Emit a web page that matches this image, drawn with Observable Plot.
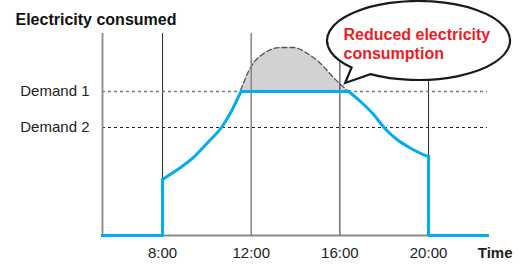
<!DOCTYPE html>
<html>
<head>
<meta charset="utf-8">
<script src="https://cdn.jsdelivr.net/npm/d3@7"></script>
<script src="https://cdn.jsdelivr.net/npm/@observablehq/plot@0.6"></script>
<style>
  html, body { margin: 0; padding: 0; background: #fff; }
  svg { display: block; }
</style>
</head>
<body>
<div id="chart"></div>
<script>
// ---- data (hours of day, relative consumption) ----
const timeRange = [5.29, 22.66];
const tickHours = [8, 12, 16, 20];
const demandLabels = ["Demand 1", "Demand 2"];
const demandValues = [144, 108];
const yMax = 202;

// blue (actual consumption) pieces
const offHoursA = [5.29, 8, 8];
const offValuesA = [0, 0, 56];
const riseHours = [8, 8.66, 9.41, 10.01, 10.69, 11.14, 11.39, 11.55];
const riseValues = [56, 65.7, 78.3, 92.3, 109, 125.7, 137.3, 144];
const capHours = [11.55, 16.4];
const capValues = [144, 144];
const fallHours = [16.4, 16.93, 17.53, 17.98, 18.59, 19.19, 19.79, 20];
const fallValues = [144, 134, 120.7, 108.3, 95.7, 87.3, 80.7, 79];
const offHoursB = [20, 20, 22.66];
const offValuesB = [79, 0, 0];

// dashed (unreduced peak) curve
const peakHours = [11.52, 11.97, 12.56, 13.32, 13.91, 14.54, 15.13, 15.71, 16.34];
const peakValues = [145, 168, 182, 188, 188, 182, 172, 158, 145];

const titleText = "Electricity consumed";
const xLabel = "Time";
const bubbleText = "Reduced electricity\nconsumption";

// ---- build tables ----
const zip = (xs, ys, seg) => xs.map((x, i) => ({x, y: ys[i], seg}));
const straight = [...zip(offHoursA, offValuesA, "a"), ...zip(capHours, capValues, "c"), ...zip(offHoursB, offValuesB, "e")];
const curved = [...zip(riseHours, riseValues, "b"), ...zip(fallHours, fallValues, "d")];
const peak = zip(peakHours, peakValues, "p");

const blue = "#00aeef";

const plot = Plot.plot({
  width: 522,
  height: 264,
  marginLeft: 102,
  marginRight: 35,
  marginTop: 33,
  marginBottom: 29,
  style: {fontFamily: "'Liberation Sans', Arial, sans-serif", background: "#fff", color: "#222"},
  x: {domain: timeRange},
  y: {domain: [0, yMax]},
  marks: [
    Plot.areaY(peak, {x: "x", y1: demandValues[0], y2: "y", fill: "#d1d2d4", curve: "monotone-x"}),
    Plot.line(peak, {x: "x", y: "y", stroke: "#555", strokeWidth: 1.3, strokeDasharray: "5,3", curve: "monotone-x"}),
    Plot.ruleX(tickHours, {y1: 0, y2: yMax, stroke: (d) => d === 12 ? "#8a8a8a" : "#2a2a2a", strokeWidth: (d) => d === 12 ? 1.6 : 1}),
    Plot.ruleY([demandValues[0]], {stroke: "#7a7a7a", strokeWidth: 1.3, strokeDasharray: "3,3"}),
    Plot.ruleY([demandValues[1]], {stroke: "#222", strokeWidth: 1.1, strokeDasharray: "3,3"}),
    Plot.ruleX([timeRange[0]], {y1: 0, y2: yMax, stroke: "#8a8a8a", strokeWidth: 1.8}),
    Plot.ruleY([0], {stroke: "#8a8a8a", strokeWidth: 1.8}),
    Plot.line(straight, {x: "x", y: "y", z: "seg", stroke: blue, strokeWidth: 3, strokeLinecap: "square", strokeLinejoin: "miter"}),
    Plot.line(curved, {x: "x", y: "y", z: "seg", stroke: blue, strokeWidth: 3, curve: "monotone-x", strokeLinecap: "square"}),
    Plot.axisY({ticks: demandValues, tickFormat: (d) => demandLabels[demandValues.indexOf(d)], tickSize: 0, tickPadding: 13, fontSize: 15, label: null, fill: "#222"}),
    Plot.axisX({ticks: tickHours, tickFormat: (d) => d + ":00", tickSize: 0, tickPadding: 12, fontSize: 15, label: null, fill: "#222"}),
    Plot.text([xLabel], {text: (d) => d, frameAnchor: "bottom-right", textAnchor: "end", lineAnchor: "top", dx: 25, dy: 12, fontSize: 15, fontWeight: "bold", fill: "#222"}),
    Plot.text([titleText], {text: (d) => d, frameAnchor: "top-left", textAnchor: "start", lineAnchor: "bottom", dx: -87, dy: -9, fontSize: 16, fontWeight: "bold", fill: "#111"}),
    Plot.text([bubbleText], {text: (d) => d, frameAnchor: "top-left", textAnchor: "start", lineAnchor: "top", dx: 241, dy: -7, lineHeight: 1.2, fontSize: 16, fontWeight: "bold", fill: "#ee1c25"})
  ]
});

// speech bubble (annotation) anchored via the scales, drawn behind the bubble text
const sx = plot.scale("x"), sy = plot.scale("y");
const cx = sx.apply(19.57), cy = sy.apply(194.5), rx = 91.5, ry = 39.5;
const onEllipse = (deg) => [cx + rx * Math.cos(deg * Math.PI / 180), cy + ry * Math.sin(deg * Math.PI / 180)];
const base1 = onEllipse(137), base2 = onEllipse(121.7);
const tip = [sx.apply(16.26), sy.apply(152)];
const path = `M${base1[0]},${base1[1]} A${rx},${ry} 0 1 1 ${base2[0]},${base2[1]} L${tip[0]},${tip[1]} Z`;
const g = document.createElementNS("http://www.w3.org/2000/svg", "path");
g.setAttribute("d", path);
g.setAttribute("fill", "#fff");
g.setAttribute("stroke", "#1a1a1a");
g.setAttribute("stroke-width", "2.2");
g.setAttribute("stroke-linejoin", "miter");
plot.insertBefore(g, plot.lastElementChild);

document.getElementById("chart").append(plot);
</script>
</body>
</html>
